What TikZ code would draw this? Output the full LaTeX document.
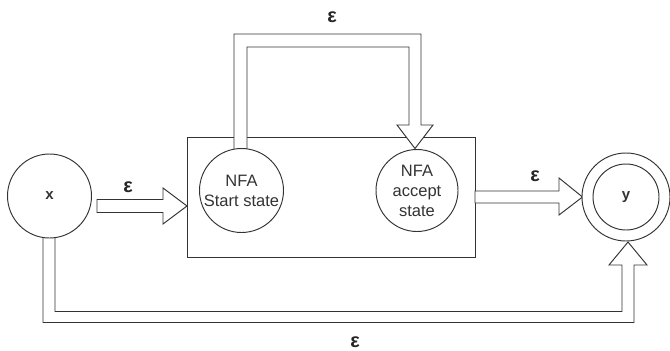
\documentclass[tikz,border=0pt]{standalone}
\usepackage{fontspec}
\setmainfont{Liberation Sans}
\usetikzlibrary{calc}
\begin{document}
\begin{tikzpicture}[x=1pt, y=-1pt,
  line/.style={draw=black!80, line width=0.95pt},
  state/.style={line, circle, fill=white, inner sep=0pt, align=center,
    text=black!80, font=\fontsize{16.5}{20}\selectfont},
  blockarrow/.style={line, fill=white, line join=miter},
  eps/.style={font=\fontsize{20}{22}\selectfont\bfseries, text=black!85},
  sym/.style={font=\fontsize{15}{18}\selectfont\bfseries, text=black!85}]
\useasboundingbox (0,0) rectangle (670,351);

% NFA container
\draw[line] (187,137) rectangle (475,257);
\coordinate (boxW) at (187,206);
\coordinate (boxE) at (475,197);

% state positions
\coordinate (px) at (49.5,196);
\coordinate (ps) at (241.5,190.5);
\coordinate (pa) at (417,190.5);
\coordinate (py) at (626,197);

% x -> NFA start (epsilon)
\draw[blockarrow] ($(boxW)+(-90,-6.5)$) -- ($(boxW)+(-24,-6.5)$) -- ($(boxW)+(-24,-18)$)
  -- (boxW) -- ($(boxW)+(-24,18)$) -- ($(boxW)+(-24,6.5)$) -- ($(boxW)+(-90,6.5)$) -- cycle;

% NFA accept -> y (epsilon)
\draw[blockarrow] (boxE) |- ($(boxE)+(84,-6)$) -- ($(boxE)+(84,-19)$)
  -- ($(boxE)+(107.5,0)$) -- ($(boxE)+(84,18)$) -- ($(boxE)+(84,6)$) -- ($(boxE)+(0,6)$) -- cycle;

% NFA start -> NFA accept, looping over the box (epsilon)
\draw[blockarrow] (234,150) -- (234,34) -- (421,34) -- (421,125) -- (433,125)
  -- (415,148.5) -- (397,125) -- (409,125) -- (409,47) -- (247,47) -- (247,150) -- cycle;

% x -> y, bypassing the NFA (epsilon)
\draw[blockarrow] (43,236) -- (43,322.5) -- (634,322.5) -- (634,265) -- (647,265)
  -- (628,242) -- (609,265) -- (622,265) -- (622,311.5) -- (55,311.5) -- (55,236) -- cycle;

% states
\node[state, minimum size=84pt, font=\fontsize{15}{18}\selectfont\bfseries] (x) at (px) {x};
\node[state, minimum size=84pt] (start) at (ps) {NFA\\Start state};
\node[state, minimum size=82pt] (accept) at (pa) {NFA\\accept\\state};
\node[state, minimum size=88pt] (y) at (py) {};
\node[state, minimum size=66pt, font=\fontsize{15}{18}\selectfont\bfseries] (yin) at (py) {y};

% epsilon labels
\node[eps] (e1) at (128,187) {ε};
\node[eps] (e2) at (332,17) {ε};
\node[eps] (e3) at (535,176) {ε};
\node[eps] (e4) at (355,342) {ε};
\end{tikzpicture}
\end{document}
